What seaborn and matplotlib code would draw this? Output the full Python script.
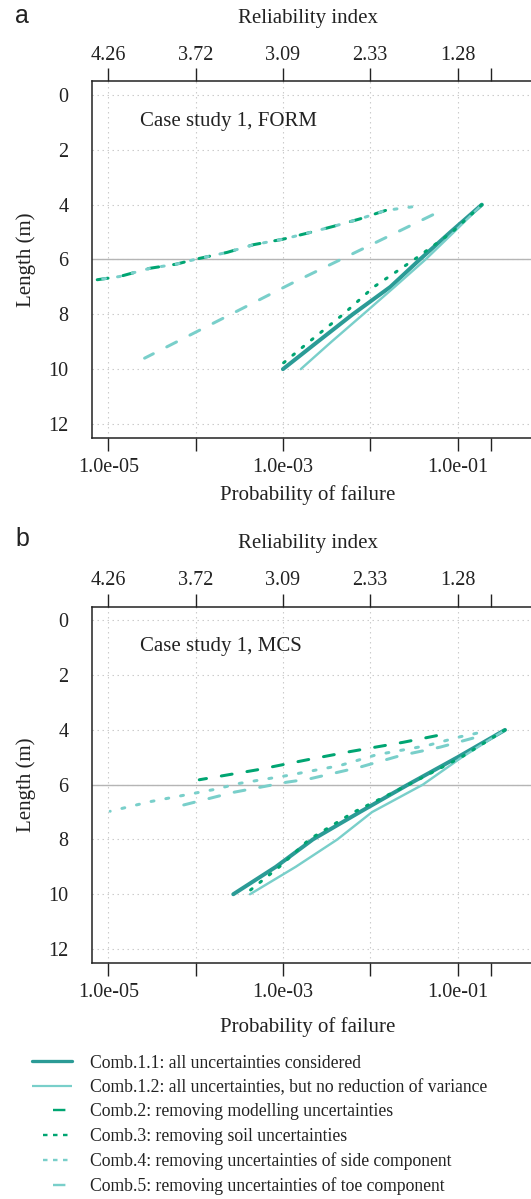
import matplotlib
matplotlib.use("Agg")
import matplotlib.pyplot as plt
from matplotlib.lines import Line2D
import pandas as pd
import seaborn as sns

# ---------------- data ----------------
length_ticks = [0, 2, 4, 6, 8, 10, 12]
pf_ticks = [1e-5, 1e-4, 1e-3, 1e-2, 1e-1]
pf_tick_labels = ["1.0e-05", "", "1.0e-03", "", "1.0e-01"]
beta_tick_labels = ["4.26", "3.72", "3.09", "2.33", "1.28"]
extra_tick = [0.24]

series_labels = [
    "Comb.1.1: all uncertainties considered",
    "Comb.1.2: all uncertainties, but no reduction of variance",
    "Comb.2: removing modelling uncertainties",
    "Comb.3: removing soil uncertainties",
    "Comb.4: removing uncertainties of side component",
    "Comb.5: removing uncertainties of toe component",
]

# Case study 1, FORM
form_len_c11 = [4, 5, 6, 7, 8, 9, 10]
form_pf_c11 = [1.9e-1, 8.3e-2, 3.7e-2, 1.7e-2, 6.3e-3, 2.5e-3, 1.0e-3]
form_len_c12 = [4, 5, 6, 7, 8, 9, 10]
form_pf_c12 = [1.9e-1, 9.1e-2, 4.3e-2, 1.9e-2, 8.3e-3, 3.6e-3, 1.6e-3]
form_len_c2 = [4.21, 4.52, 4.79, 5.04, 5.26, 5.46, 5.74, 5.99, 6.17, 6.32, 6.62, 6.74]
form_pf_c2 = [1.5e-2, 7.6e-3, 3.8e-3, 1.9e-3, 1.0e-3, 4.6e-4, 2.3e-4, 1.0e-4,
              6.0e-5, 3.0e-5, 1.35e-5, 7.4e-6]
form_len_c3 = [4, 5, 6, 7, 8, 9, 10]
form_pf_c3 = [1.9e-1, 8.7e-2, 3.2e-2, 1.1e-2, 4.9e-3, 2.0e-3, 8.3e-4]
form_len_c4 = [4.08, 4.21, 4.52, 4.79, 5.04, 5.26, 5.46, 5.74, 5.99, 6.17, 6.32, 6.62, 6.74]
form_pf_c4 = [3.0e-2, 1.5e-2, 7.6e-3, 3.8e-3, 1.9e-3, 1.0e-3, 4.6e-4, 2.3e-4, 1.0e-4,
              6.0e-5, 3.0e-5, 1.35e-5, 7.4e-6]
form_len_c5 = [4.37, 6.87, 9.6]
form_pf_c5 = [5.2e-2, 1.26e-3, 2.6e-5]

# Case study 1, MCS
mcs_len_c11 = [4, 5, 6, 7, 8, 9, 10]
mcs_pf_c11 = [3.5e-1, 1.0e-1, 2.7e-2, 7.6e-3, 2.2e-3, 8.3e-4, 2.7e-4]
mcs_len_c12 = [4, 5, 6, 7, 8, 9, 10]
mcs_pf_c12 = [3.5e-1, 1.12e-1, 4.0e-2, 1.05e-2, 4.2e-3, 1.4e-3, 4.2e-4]
mcs_len_c2 = [4.21, 4.45, 4.79, 5.09, 5.46, 5.82]
mcs_pf_c2 = [5.75e-2, 2.4e-2, 5.9e-3, 1.9e-3, 5.0e-4, 1.1e-4]
mcs_len_c3 = [4, 5, 6, 7, 8, 9, 10]
mcs_pf_c3 = [3.5e-1, 1.1e-1, 2.75e-2, 6.5e-3, 2.0e-3, 9.1e-4, 3.7e-4]
mcs_len_c4 = [4.12, 4.25, 4.57, 4.91, 5.30, 5.67, 5.95, 6.18, 6.34, 6.62, 6.97]
mcs_pf_c4 = [1.66e-1, 1.07e-1, 4.5e-2, 1.17e-2, 4.5e-3, 1.1e-3, 3.2e-4, 1.6e-4,
             8.7e-5, 3.0e-5, 1.05e-5]
mcs_len_c5 = [4.30, 4.63, 4.94, 5.36, 5.79, 5.91, 6.28, 6.76]
mcs_pf_c5 = [1.5e-1, 6.3e-2, 2.2e-2, 7.6e-3, 2.0e-3, 1.1e-3, 2.7e-4, 6.9e-5]

# ---------------- style ----------------
sns.set_style("white")
plt.rcParams["font.family"] = ["Liberation Serif", "DejaVu Serif"]
plt.rcParams["lines.scale_dashes"] = False
plt.rcParams["axes.unicode_minus"] = False

DARK = "#2b9b96"
LIGHT = "#79cfca"
GREEN = "#00a572"
INK = "#222222"
PX = 0.72  # points per pixel at dpi 100

styles = [
    dict(color=DARK, lw=4.0 * PX, ls="-"),
    dict(color=LIGHT, lw=2.4 * PX, ls="-"),
    dict(color=GREEN, lw=3.0 * PX, ls=(0, (11 * PX, 15 * PX))),
    dict(color=GREEN, lw=3.0 * PX, ls=(0, (2 * PX, 10 * PX))),
    dict(color=LIGHT, lw=3.0 * PX, ls=(0, (3 * PX, 12 * PX))),
    dict(color=LIGHT, lw=3.0 * PX, ls=(0, (11 * PX, 15 * PX))),
]

W, H = 531, 1199
fig = plt.figure(figsize=(W / 100, H / 100), dpi=100)

x_left_px, x_right_px = 92, 544.8


def make_axes(top_px, bottom_px):
    return fig.add_axes([x_left_px / W, 1 - bottom_px / H,
                         (x_right_px - x_left_px) / W, (bottom_px - top_px) / H])


def draw_panel(ax, data, case_text, xlabel_y):
    for (lens, pfs), st in zip(data, styles):
        df = pd.DataFrame({"pf": pfs, "length": lens})
        sns.lineplot(data=df, x="pf", y="length", sort=False, estimator=None,
                     ax=ax, color=st["color"], linewidth=st["lw"],
                     linestyle=st["ls"], solid_capstyle="round",
                     dash_capstyle="round", zorder=3)
    ax.set_xscale("log")
    ax.set_xlim(10 ** -5.187, 1.0)
    ax.set_ylim(12.5, -0.5)
    ax.set_xticks(pf_ticks, labels=pf_tick_labels)
    ax.set_xticks(extra_tick, labels=[""], minor=True)
    ax.set_yticks(length_ticks, labels=[str(v) for v in length_ticks])
    ax.grid(True, which="major", linestyle=(0, (1.5 * PX, 3.5 * PX)),
            color="#cccccc", linewidth=0.8)
    ax.set_axisbelow(True)
    ax.axhline(6, color="#b5b5b5", lw=1.0, zorder=1.5)
    ax.tick_params(axis="x", which="both", direction="out", length=13 * PX,
                   width=1.0, color=INK, labelsize=14.5, labelcolor=INK, pad=5,
                   top=False, bottom=True)
    ax.tick_params(axis="y", direction="out", length=22 * PX, width=1.0,
                   color=INK, labelsize=14.5, labelcolor=INK, pad=1)
    for s in ax.spines.values():
        s.set_color(INK)
        s.set_linewidth(1.1)
    ax.set_xlabel("Probability of failure", fontsize=15, color=INK)
    ax.xaxis.set_label_coords(0.477, xlabel_y)
    ax.xaxis.label.set_va("baseline")
    ax.set_ylabel("Length (m)", fontsize=15, color=INK)
    ax.yaxis.set_label_coords(-0.145, 0.5)
    ax.yaxis.label.set_va("center")
    ax.text(0.106, 0.875, case_text, transform=ax.transAxes, fontsize=15,
            color=INK, ha="left", va="baseline")

    axt = ax.twiny()
    axt.set_xscale("log")
    axt.set_xlim(ax.get_xlim())
    axt.set_xticks(pf_ticks, labels=beta_tick_labels)
    axt.set_xticks(extra_tick, labels=[""], minor=True)
    axt.tick_params(axis="x", which="both", direction="out", length=13 * PX,
                    width=1.0, color=INK, labelsize=14.5, labelcolor=INK, pad=2.6)
    for s in axt.spines.values():
        s.set_visible(False)
    axt.set_xlabel("Reliability index", fontsize=15, color=INK)
    axt.xaxis.set_label_coords(0.477, 1.164)
    axt.xaxis.label.set_va("baseline")
    return axt


form_data = [(form_len_c11, form_pf_c11), (form_len_c12, form_pf_c12),
             (form_len_c2, form_pf_c2), (form_len_c3, form_pf_c3),
             (form_len_c4, form_pf_c4), (form_len_c5, form_pf_c5)]
mcs_data = [(mcs_len_c11, mcs_pf_c11), (mcs_len_c12, mcs_pf_c12),
            (mcs_len_c2, mcs_pf_c2), (mcs_len_c3, mcs_pf_c3),
            (mcs_len_c4, mcs_pf_c4), (mcs_len_c5, mcs_pf_c5)]

ax_a = make_axes(81.3, 437.7)
draw_panel(ax_a, form_data, "Case study 1, FORM", -0.175)
ax_b = make_axes(606.7, 962.7)
draw_panel(ax_b, mcs_data, "Case study 1, MCS", -0.194)

fig.text(15 / W, 1 - 23 / H, "a", fontsize=18, family="Liberation Sans",
         color=INK, va="baseline")
fig.text(15 / W, 1 - 546 / H, "b", fontsize=18, family="Liberation Sans",
         color=INK, va="baseline")

# ---------------- legend ----------------
one_dash = (91.4 * PX, (12.4 * PX, 100 * PX))
three_dots = (113.5 * PX, (4.5 * PX, 5.5 * PX, 4.5 * PX, 5.5 * PX, 4.5 * PX, 100 * PX))
handles = [
    Line2D([], [], color=DARK, lw=3.3 * PX, solid_capstyle="round"),
    Line2D([], [], color=LIGHT, lw=2.2 * PX, solid_capstyle="butt"),
    Line2D([], [], color=GREEN, lw=2.4 * PX, linestyle=one_dash, dash_capstyle="butt"),
    Line2D([], [], color=GREEN, lw=2.4 * PX, linestyle=three_dots, dash_capstyle="butt"),
    Line2D([], [], color=LIGHT, lw=2.4 * PX, linestyle=three_dots, dash_capstyle="butt"),
    Line2D([], [], color=LIGHT, lw=2.4 * PX, linestyle=one_dash, dash_capstyle="butt"),
]
leg_fs = 12.7
fig.legend(handles, series_labels, loc="upper left",
           bbox_to_anchor=(32 / W, 1 - 1054.6 / H), frameon=False,
           fontsize=leg_fs, handlelength=28.8 / leg_fs,
           handletextpad=13 / leg_fs, labelspacing=0.42, borderpad=0,
           borderaxespad=0, labelcolor=INK)

fig.savefig("out.png", dpi=100)
